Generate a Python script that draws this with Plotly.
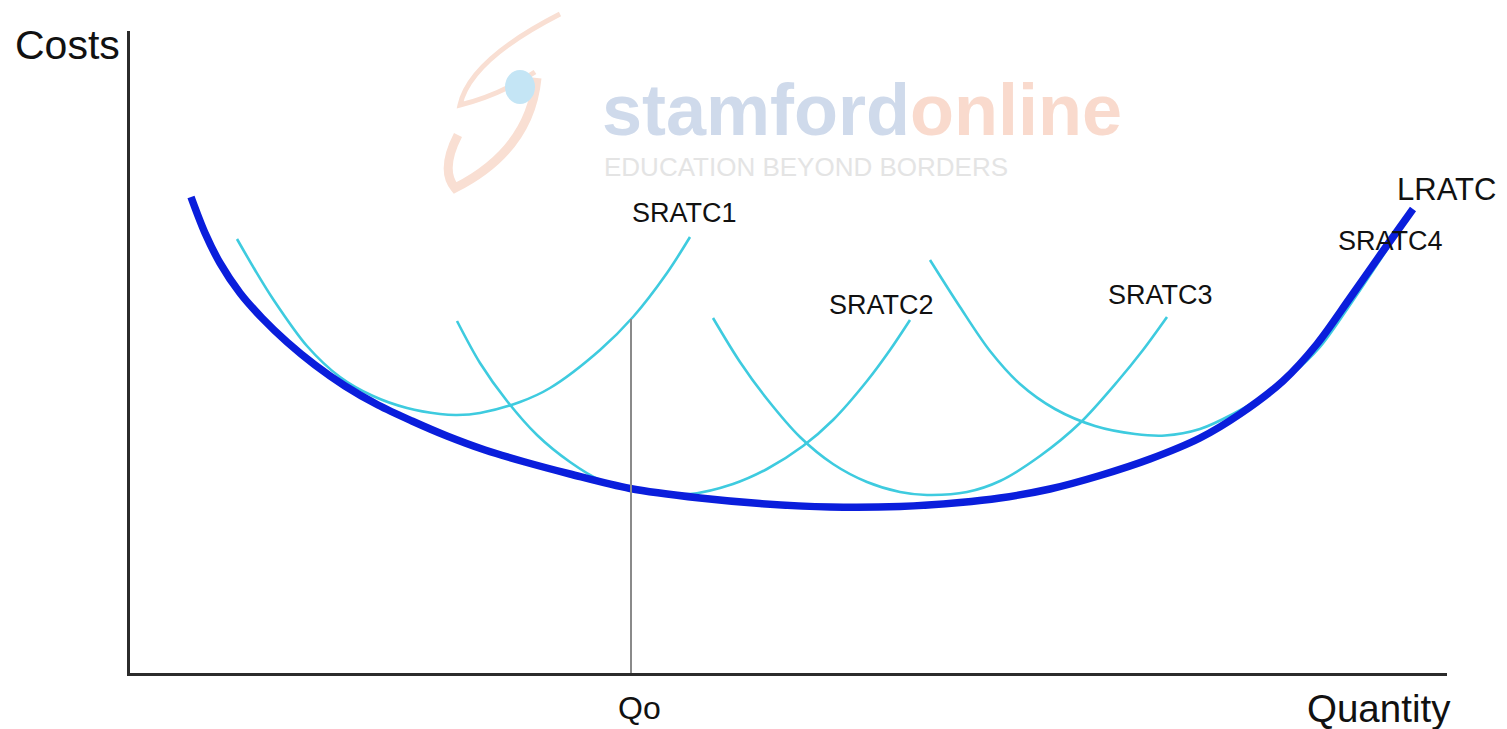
import numpy as np
import plotly.graph_objects as go

# ---------------- data ----------------
# Long-run average total cost (LRATC)
lr_q = [6.3, 7.7, 9.2, 11.2, 13.4, 15.9, 18.7, 21.7, 25.0, 28.4, 31.9, 35.7, 39.7, 44.2,
        50.2, 57.2, 63.2, 70.2, 77.2, 83.2, 87.2, 92.2, 97.2, 102.2, 107.2, 111.2,
        115.5, 118.9, 122.2, 125.5, 128.5]
lr_c = [47.8, 44.2, 41.2, 38.2, 35.7, 33.3, 31.0, 28.9, 27.0, 25.4, 23.9, 22.5, 21.3, 20.1,
        18.65, 17.7, 17.15, 16.8, 16.85, 17.25, 17.7, 18.6, 19.95, 21.6, 23.7, 26.1,
        29.4, 33.1, 37.7, 42.4, 46.6]

# Short-run average total cost curves
s1_q = [10.9, 12.7, 14.5, 17.9, 21.2, 24.5, 27.9, 31.2, 32.9, 35.2, 39.2, 42.2, 47.2, 50.5, 53.9, 56.2]
s1_c = [43.6, 40.5, 37.6, 32.9, 29.8, 27.9, 26.7, 26.1, 26.0, 26.2, 27.3, 28.7, 32.5, 35.8, 40.2, 43.8]

s2_q = [32.9, 35.2, 37.9, 40.9, 44.2, 47.2, 51.2, 56.2, 60.5, 63.9, 67.5, 70.5, 73.9, 76.2, 78.2]
s2_c = [35.4, 31.2, 27.4, 24.0, 21.3, 19.5, 18.4, 18.1, 19.1, 20.6, 22.9, 25.5, 29.4, 32.5, 35.5]

s3_q = [58.5, 61.2, 63.9, 67.2, 70.5, 73.9, 77.2, 79.9, 83.9, 87.2, 91.2, 95.2, 98.9, 101.5, 103.9]
s3_c = [35.7, 31.3, 27.6, 23.8, 21.1, 19.3, 18.3, 18.0, 18.3, 19.4, 21.9, 25.2, 29.3, 32.5, 35.8]

s4_q = [80.2, 83.2, 86.2, 89.2, 92.7, 96.7, 100.7, 103.7, 107.2, 110.5, 113.2, 116.2, 119.2, 122.4, 126.0]
s4_c = [41.5, 36.8, 32.4, 29.1, 26.6, 24.9, 24.1, 23.95, 24.6, 26.1, 27.7, 29.9, 32.8, 37.3, 42.7]

# Output level Qo marked on the quantity axis
qo = 50.3

# Text labels
curve_labels = ["SRATC1", "SRATC2", "SRATC3", "SRATC4"]
long_run_label = "LRATC"
x_title = "Quantity"
y_title = "Costs"
qo_label = "Qo"

# ---------------- figure ----------------
CYAN = "#3ecbdf"
BLUE = "#0a1edc"
TXT = "#111111"
FONT = "Liberation Sans, Arial, sans-serif"

fig = go.Figure()

for q, c, name in zip([s1_q, s2_q, s3_q, s4_q], [s1_c, s2_c, s3_c, s4_c], curve_labels):
    fig.add_trace(go.Scatter(x=q, y=c, mode="lines", name=name,
                             line=dict(color=CYAN, width=2.6, shape="spline", smoothing=0.9),
                             hoverinfo="skip"))

fig.add_trace(go.Scatter(x=lr_q, y=lr_c, mode="lines", name=long_run_label,
                         line=dict(color=BLUE, width=7.5, shape="spline", smoothing=0.9),
                         hoverinfo="skip"))

qo_top = float(np.interp(qo, s1_q, s1_c))
fig.add_trace(go.Scatter(x=[qo, qo], y=[0, qo_top], mode="lines", name="Qo",
                         line=dict(color="#8a8a8a", width=2), hoverinfo="skip"))

# page-pixel -> paper helpers (plot area spans x 130..1447, y 31..673 on the page)
def pxx(p):
    return (p - 130) / 1317.0

def pxy(p):
    return (673 - p) / 642.0

def label(x, y, text, size, xanchor="center", **extra):
    d = dict(x=pxx(x), y=pxy(y), xref="paper", yref="paper", text=text, showarrow=False,
             xanchor=xanchor, yanchor="middle", font=dict(family=FONT, size=size, color=TXT))
    d.update(extra)
    return d

# ---- labels ----
ann = []
label_pos = {"SRATC1": (684, 213), "SRATC2": (882, 305),
             "SRATC3": (1160, 295), "SRATC4": (1390, 241)}
for name in curve_labels:
    x, y = label_pos[name]
    ann.append(label(x, y, name, 27))
ann.append(label(1446, 190, long_run_label, 31))
ann.append(label(13, 45, y_title, 41, xanchor="left"))
ann.append(label(1379, 708, x_title, 38.5))
ann.append(label(639, 708, qo_label, 32))

# ---- faint watermark ----
ann.append(dict(x=pxx(600), y=pxy(110), xref="paper", yref="paper", xanchor="left", yanchor="middle",
                showarrow=False,
                text='<b><span style="color:#cfdaeb">stamford</span><span style="color:#f9dacd">online</span></b>',
                font=dict(family=FONT, size=72)))
ann.append(dict(x=pxx(602), y=pxy(167), xref="paper", yref="paper", xanchor="left", yanchor="middle",
                showarrow=False, text="EDUCATION BEYOND BORDERS",
                font=dict(family=FONT, size=26, color="#e4e4e4")))

shapes = [
    dict(type="path", xref="paper", yref="paper", layer="below",
         path=f"M {pxx(560)} {pxy(14)} Q {pxx(470)} {pxy(60)} {pxx(460)} {pxy(105)} "
              f"Q {pxx(500)} {pxy(95)} {pxx(535)} {pxy(72)}",
         line=dict(color="#f9dfd3", width=5)),
    dict(type="path", xref="paper", yref="paper", layer="below",
         path=f"M {pxx(537)} {pxy(78)} Q {pxx(530)} {pxy(150)} {pxx(455)} {pxy(188)} "
              f"Q {pxx(440)} {pxy(170)} {pxx(458)} {pxy(135)}",
         line=dict(color="#f9dfd3", width=9)),
    dict(type="circle", xref="paper", yref="paper", layer="below",
         x0=pxx(505), x1=pxx(535), y0=pxy(70), y1=pxy(104),
         fillcolor="#c4e5f5", line=dict(color="#c4e5f5", width=0)),
]

# the page body has an 8px margin, so the figure is 8px smaller and its margins compensate
fig.update_layout(
    width=1499, height=721,
    margin=dict(l=122, r=60, t=23, b=56),
    plot_bgcolor="white", paper_bgcolor="white",
    showlegend=False,
    annotations=ann,
    shapes=shapes,
)
axis_common = dict(showline=True, linecolor="#2b2b2b", linewidth=3, showgrid=False,
                   zeroline=False, showticklabels=False, ticks="", fixedrange=True)
fig.update_xaxes(range=[0.2, 131.9], **axis_common)
fig.update_yaxes(range=[0.2, 64.4], **axis_common)

fig.write_html("out.html")
